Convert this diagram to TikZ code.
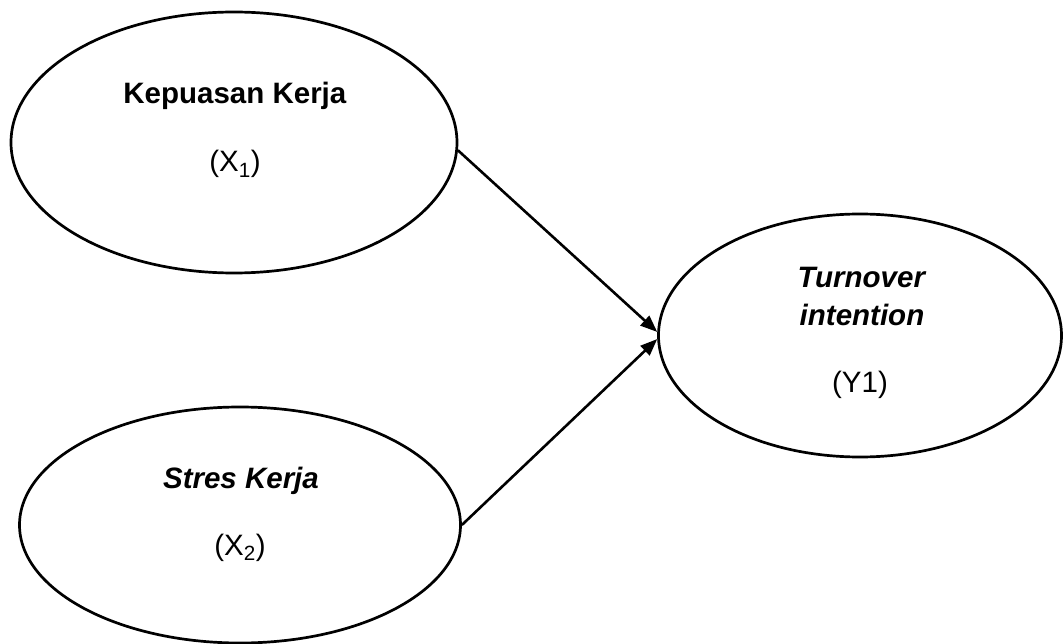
\documentclass[tikz,border=0pt]{standalone}
\usepackage{fontspec}
\setmainfont{Liberation Sans}
\usetikzlibrary{shapes.geometric,arrows.meta}
\begin{document}
\begin{tikzpicture}[x=1pt,y=-1pt,
  latent/.style={draw,ellipse,line width=2.7pt,inner sep=0pt},
  lbl/.style={anchor=base,inner sep=0pt,font=\fontsize{29.5}{37}\selectfont},
  path/.style={line width=2.6pt,-{Triangle[length=17pt,width=13pt]}}]
\useasboundingbox (0,0) rectangle (1063,644);
\node[latent,minimum width=446pt,minimum height=261pt] (e1) at (234,142.5) {};
\node[latent,minimum width=441pt,minimum height=236pt] (e2) at (240,525) {};
\node[latent,minimum width=403pt,minimum height=243pt] (e3) at (860,335.5) {};
\node[lbl] (t1) at (235,104) {\textbf{Kepuasan Kerja}};
\node[lbl] (s1) at (235,172) {(X\textsubscript{1})};
\node[lbl] (t2) at (241,488) {\textbf{\textit{Stres Kerja}}};
\node[lbl] (s2) at (240,555) {(X\textsubscript{2})};
\node[lbl] (t3) at (862,288) {\textbf{\textit{Turnover}}};
\node[lbl] (t3b) at (862,326) {\textbf{\textit{intention}}};
\node[lbl] (s3) at (860,392) {(Y1)};
\draw[path] (e1.-2.5) -- (e3.179);
\draw[path] (e2.east) -- (e3.181);
\end{tikzpicture}
\end{document}
